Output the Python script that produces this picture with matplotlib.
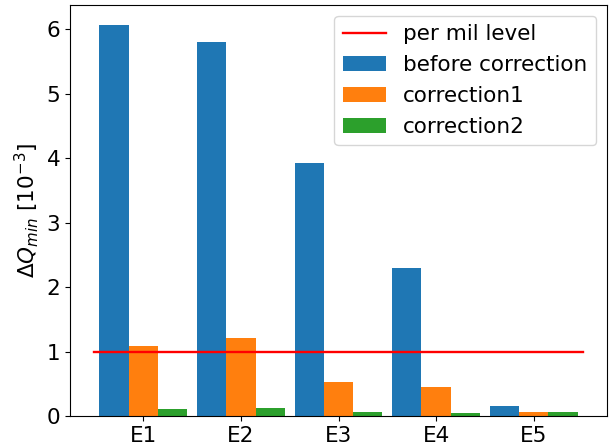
import numpy as np
import matplotlib
matplotlib.use('Agg')
import matplotlib.pyplot as plt

# data
labels = ['E1', 'E2', 'E3', 'E4', 'E5']
before = [6.07, 5.80, 3.93, 2.30, 0.15]
corr1 = [1.09, 1.21, 0.53, 0.445, 0.062]
corr2 = [0.104, 0.125, 0.057, 0.045, 0.062]
per_mil = 1.0

plt.rcParams['font.size'] = 15.5

x = np.arange(len(labels))
w = 0.3

fig = plt.figure(figsize=(6.09, 4.47), dpi=100)
ax = fig.add_axes([70 / 609, 1 - 416 / 447, 537 / 609, 411 / 447])

ax.plot([x[0] - 0.5, x[-1] + 0.5], [per_mil, per_mil], 'r-', lw=1.7, label='per mil level')
ax.bar(x - w, before, w, label='before correction')
ax.bar(x, corr1, w, label='correction1')
ax.bar(x + w, corr2, w, label='correction2')

ax.set_xticks(x)
ax.set_xticklabels(labels)
ax.set_ylabel(r'$\Delta Q_{min}$ [$10^{-3}$]')
ax.legend(loc='upper right')

fig.savefig('out.png', dpi=100)
